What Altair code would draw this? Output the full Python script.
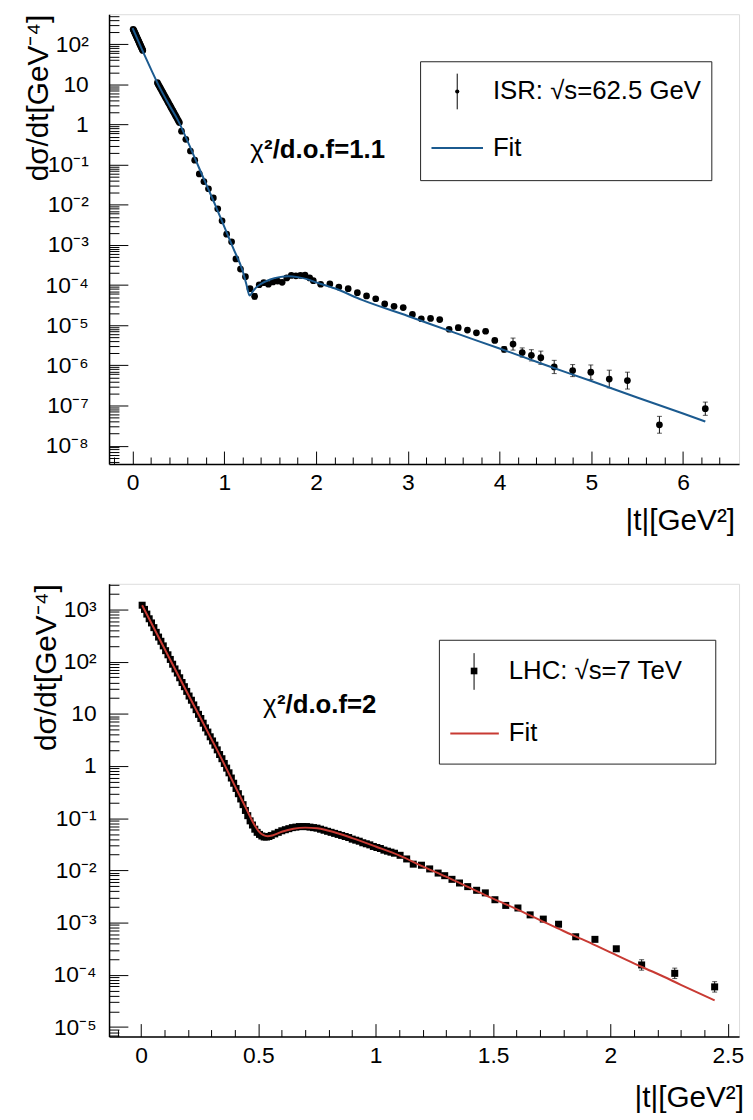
import json
import altair as alt
import pandas as pd

FONT = "Liberation Sans"

# ---------------- ISR, sqrt(s) = 62.5 GeV ----------------
isr_t = [0.006, 0.011, 0.016, 0.021, 0.026, 0.031, 0.036, 0.041, 0.046, 0.051, 0.056,
         0.061, 0.066, 0.071, 0.076, 0.081, 0.086, 0.091, 0.096, 0.101, 0.106, 0.111,
         0.27, 0.28, 0.29, 0.30, 0.31, 0.32, 0.33, 0.34, 0.35, 0.36, 0.37, 0.38, 0.39,
         0.40, 0.41, 0.42, 0.43, 0.44, 0.45, 0.46, 0.47, 0.48, 0.49, 0.50, 0.51,
         0.533, 0.58, 0.63, 0.677, 0.727, 0.777, 0.827, 0.88, 0.928, 0.975, 1.025, 1.079,
         1.126, 1.176, 1.23, 1.28, 1.33, 1.38, 1.43, 1.48, 1.53, 1.58, 1.63, 1.68, 1.73,
         1.78, 1.83, 1.88, 1.93, 1.97, 2.05, 2.15, 2.248, 2.35, 2.45, 2.55, 2.65, 2.748,
         2.85, 2.95, 3.05, 3.147, 3.248, 3.348, 3.45, 3.55, 3.65, 3.748, 3.848, 3.948,
         4.05, 4.147, 4.247, 4.347, 4.45, 4.596, 4.797, 4.995, 5.196, 5.394, 5.743, 6.243]
isr_dsdt = [236, 225, 212, 200, 189, 178, 168, 158, 149, 141, 133,
            125, 118, 111, 105, 99, 93.5, 88, 83, 78.5, 74, 70,
            11.0, 10.0, 9.1, 8.27, 7.52, 6.83, 6.21, 5.65, 5.13, 4.67, 4.24, 3.86, 3.51,
            3.19, 2.90, 2.63, 2.39, 2.18, 1.98, 1.80, 1.64, 1.49, 1.35, 1.23, 1.12,
            0.684, 0.427, 0.219, 0.129, 0.0589, 0.0380, 0.0251, 0.0148, 7.94e-3, 3.98e-3,
            1.86e-3, 1.20e-3, 4.47e-4, 2.51e-4, 1.62e-4, 8.13e-5, 5.25e-5, 1.02e-4, 1.15e-4,
            1.05e-4, 1.20e-4, 1.26e-4, 1.17e-4, 1.51e-4, 1.74e-4, 1.70e-4, 1.74e-4, 1.78e-4,
            1.51e-4, 1.29e-4, 1.05e-4, 1.07e-4, 8.91e-5, 8.13e-5, 6.46e-5, 5.37e-5, 4.57e-5,
            3.39e-5, 2.95e-5, 2.75e-5, 1.86e-5, 1.45e-5, 1.48e-5, 1.38e-5, 7.94e-6, 8.71e-6,
            7.59e-6, 6.46e-6, 7.08e-6, 4.17e-6, 2.51e-6, 3.39e-6, 2.09e-6, 1.78e-6, 1.55e-6,
            9.12e-7, 7.41e-7, 6.76e-7, 4.57e-7, 4.17e-7, 3.31e-8, 8.32e-8]
# half-length of each error bar, in decades
isr_err = ([0.01] * 47 +
           [0.03, 0.03, 0.03, 0.03, 0.03, 0.03, 0.03, 0.03, 0.03, 0.03, 0.03, 0.03,
            0.03, 0.03, 0.03, 0.04, 0.07, 0.04, 0.03, 0.03, 0.03, 0.03, 0.03, 0.03, 0.03,
            0.03, 0.03, 0.03, 0.03, 0.03, 0.03, 0.03, 0.03, 0.03, 0.03, 0.03, 0.03, 0.03,
            0.03, 0.03, 0.03, 0.03, 0.03, 0.03, 0.03, 0.06, 0.04, 0.04, 0.05, 0.04, 0.07,
            0.15, 0.115, 0.14, 0.165, 0.165, 0.15, 0.18, 0.22, 0.21, 0.21, 0.165, 0.39])

isr_fit_t = [0.0, 0.1, 0.2, 0.3, 0.4, 0.5, 0.6, 0.7, 0.8, 0.9, 1.0, 1.1, 1.2, 1.24,
             1.275, 1.31, 1.35, 1.4, 1.5, 1.6, 1.7, 1.8, 1.9, 2.0, 2.2, 2.5, 3.0, 3.5,
             4.0, 4.5, 5.0, 5.5, 6.0, 6.243]
isr_fit_y = [251, 75.9, 24.0, 7.94, 3.02, 1.20, 0.380, 0.112, 0.0331, 0.0100, 2.82e-3,
             7.94e-4, 2.24e-4, 1.05e-4, 5.50e-5, 6.92e-5, 8.91e-5, 1.07e-4, 1.38e-4,
             1.58e-4, 1.66e-4, 1.58e-4, 1.41e-4, 1.17e-4, 8.32e-5, 4.27e-5, 1.70e-5,
             6.61e-6, 2.63e-6, 1.02e-6, 4.07e-7, 1.58e-7, 6.31e-8, 3.98e-8]

# ---------------- LHC, sqrt(s) = 7 TeV ----------------
lhc_t = [0.005, 0.015, 0.025, 0.035, 0.045, 0.055, 0.065, 0.075, 0.085, 0.095, 0.105,
         0.115, 0.125, 0.135, 0.145, 0.155, 0.165, 0.175, 0.185, 0.195, 0.205, 0.215,
         0.225, 0.235, 0.245, 0.255, 0.265, 0.275, 0.285, 0.295, 0.305, 0.315, 0.325,
         0.335, 0.345, 0.355, 0.365, 0.375, 0.385, 0.395, 0.405, 0.415, 0.425, 0.435,
         0.445, 0.455, 0.465, 0.475, 0.485, 0.495, 0.505, 0.515, 0.525, 0.535, 0.545,
         0.555,
         0.57, 0.585, 0.60, 0.615, 0.63, 0.645, 0.66, 0.675, 0.69, 0.705, 0.72, 0.735,
         0.75, 0.765, 0.78, 0.795, 0.81, 0.825, 0.84, 0.855, 0.87, 0.885, 0.90, 0.915,
         0.93, 0.945, 0.96, 0.975, 0.99, 1.005, 1.02, 1.035, 1.05, 1.065, 1.08,
         1.104, 1.132, 1.16, 1.195, 1.23, 1.266, 1.294, 1.325, 1.357, 1.392, 1.43, 1.467,
         1.508, 1.554, 1.606, 1.658, 1.714, 1.779, 1.852, 1.934, 2.025, 2.133, 2.274, 2.444]
lhc_dsdt = [1202, 1000, 813, 661, 550, 447, 363, 295, 245, 200, 162, 135, 110, 89.1,
            72.4, 60.3, 49.0, 39.8, 33.1, 26.9, 21.9, 18.2, 14.8, 12.0, 9.77, 8.13, 6.61,
            5.37, 4.47, 3.63, 3.02, 2.51, 2.04, 1.66, 1.38, 1.12, 0.912, 0.741, 0.589,
            0.468, 0.372, 0.295, 0.234, 0.182, 0.141, 0.112, 0.0891, 0.0741, 0.0617,
            0.0537, 0.0490, 0.0457, 0.0437, 0.0437, 0.0447, 0.0468,
            0.0501, 0.0537, 0.0575, 0.0603, 0.0631, 0.0661, 0.0676, 0.0692, 0.0692,
            0.0692, 0.0676, 0.0661, 0.0646, 0.0617, 0.0589, 0.0562, 0.0537, 0.0513,
            0.0490, 0.0468, 0.0447, 0.0427, 0.0398, 0.0380, 0.0363, 0.0339, 0.0324,
            0.0309, 0.0288, 0.0275, 0.0263, 0.0245, 0.0234, 0.0224, 0.0214,
            0.0195, 0.0166, 0.0132, 0.0126, 0.0107, 8.91e-3, 7.94e-3, 6.76e-3, 5.75e-3,
            4.90e-3, 4.17e-3, 3.72e-3, 2.75e-3, 2.14e-3, 1.91e-3, 1.41e-3, 1.17e-3,
            9.33e-4, 5.37e-4, 4.79e-4, 3.16e-4, 1.55e-4, 1.07e-4, 5.89e-5]
lhc_err = ([0.01] * 91 + [0.02] * 18 + [0.03, 0.03, 0.04, 0.1, 0.1, 0.1])

lhc_fit_t = [0.005, 0.1, 0.2, 0.3, 0.35, 0.4, 0.45, 0.48, 0.5, 0.52, 0.54, 0.56, 0.6,
             0.65, 0.7, 0.75, 0.8, 0.9, 1.0, 1.1, 1.2, 1.3, 1.4, 1.5, 1.6, 1.7, 1.8,
             1.9, 2.0, 2.1, 2.2, 2.3, 2.444]
lhc_fit_y = [1202, 178, 24.0, 3.31, 1.20, 0.417, 0.148, 0.0794, 0.0575, 0.0479, 0.0452,
             0.0468, 0.0550, 0.0631, 0.0661, 0.0646, 0.0575, 0.0417, 0.0288, 0.0195,
             0.0120, 7.59e-3, 4.68e-3, 2.88e-3, 1.82e-3, 1.12e-3, 6.92e-4, 4.37e-4,
             2.69e-4, 1.66e-4, 1.05e-4, 6.46e-5, 3.24e-5]

# ---------------- texts / tick labels ----------------
top_y_labels = ["10⁻⁸", "10⁻⁷", "10⁻⁶", "10⁻⁵", "10⁻⁴", "10⁻³", "10⁻²", "10⁻¹", "1", "10", "10²"]
bot_y_labels = ["10⁻⁵", "10⁻⁴", "10⁻³", "10⁻²", "10⁻¹", "1", "10", "10²", "10³"]
top_x_vals = [0, 1, 2, 3, 4, 5, 6]
top_x_labels = ["0", "1", "2", "3", "4", "5", "6"]
bot_x_vals = [0, 0.5, 1, 1.5, 2, 2.5]
bot_x_labels = ["0", "0.5", "1", "1.5", "2", "2.5"]
y_title = "dσ/dt[GeV⁻⁴]"
x_title = "|t|[GeV²]"
top_leg = ["ISR: √s=62.5 GeV", "Fit"]
bot_leg = ["LHC: √s=7 TeV", "Fit"]
top_chi = "²/d.o.f=1.1"
bot_chi = "²/d.o.f=2"


def make_df(t, y, err):
    return pd.DataFrame({"t": t, "y": y,
                         "lo": [v / 10 ** e for v, e in zip(y, err)],
                         "hi": [v * 10 ** e for v, e in zip(y, err)]})


ONE = pd.DataFrame({"k": [0]})


def txt(s, x, y, size, weight="normal"):
    return alt.Chart(ONE).mark_text(text=s, font=FONT, fontSize=size, fontWeight=weight,
                                    align="left", baseline="middle", color="black"
                                    ).encode(x=alt.value(x), y=alt.value(y))


def panel(df, fit_df, xdom, ydom, W, H, x_minor, x_major_test, x_vals, x_labels,
          y_lo_exp, y_hi_exp, y_labels, color, marker, msize, xtitle_x, xtitle_y,
          ytitle_x, ylab_pad, spacer, chi_x, chi_y, chi_text, leg, leg_labels):
    xs = alt.Scale(domain=xdom, nice=False, zero=False)
    ys = alt.Scale(type="log", domain=ydom, nice=False)
    y_decades = [10.0 ** k for k in range(y_lo_exp, y_hi_exp + 1)]
    y_minor = [m * 10.0 ** k for k in range(y_lo_exp - 1, y_hi_exp + 1) for m in range(1, 10)
               if ydom[0] <= m * 10.0 ** k <= ydom[1]]
    x_expr = (json.dumps(x_labels, ensure_ascii=False) +
              "[indexof(" + json.dumps(x_vals) + ", datum.value)]")
    y_expr = (json.dumps(y_labels, ensure_ascii=False) +
              "[round(log(datum.value)/LN10) - (" + str(y_lo_exp) + ")]")

    ax_x = alt.Axis(orient="bottom", values=x_vals, labelExpr=x_expr, ticks=False, tickSize=0,
                    domain=True, domainColor="black", domainWidth=1.5, grid=False,
                    labelFont=FONT, labelFontSize=23, labelColor="black", labelPadding=8,
                    labelFlush=False, labelOverlap=False, labelBound=False,
                    title=x_title, titleFont=FONT, titleFontSize=30, titleFontWeight="normal",
                    titleColor="black", titleX=xtitle_x, titleY=xtitle_y, titleAlign="right",
                    titleBaseline="alphabetic", titleAngle=0)
    ax_y = alt.Axis(orient="left", values=y_decades, labelExpr=y_expr, ticks=False, tickSize=0,
                    domain=True, domainColor="black", domainWidth=1.5, grid=False,
                    labelFont=FONT, labelFontSize=23, labelColor="black", labelPadding=ylab_pad,
                    labelFlush=False, labelOverlap=False, labelBound=False,
                    title=y_title, titleFont=FONT, titleFontSize=30, titleFontWeight="normal",
                    titleColor="black", titleX=ytitle_x, titleY=0, titleAlign="right",
                    titleBaseline="alphabetic", titleAngle=270)
    tick_x = alt.Axis(orient="top", offset=-H, values=x_minor, labels=False, domain=False,
                      grid=False, ticks=True, tickColor="black", tickWidth=1, minExtent=0,
                      tickSize={"condition": {"test": x_major_test, "value": 13}, "value": 7},
                      title=None)
    tick_y = alt.Axis(orient="right", offset=-W, values=y_minor, labels=False, domain=False,
                      grid=False, ticks=True, tickColor="black", tickWidth=1, minExtent=0,
                      tickSize={"condition": {"test": "abs(log(datum.value)/LN10 - round(log(datum.value)/LN10)) < 0.001",
                                              "value": 19}, "value": 10},
                      title=None)

    eb = alt.Chart(df).mark_errorbar(ticks=True, size=5, thickness=1, color="#111").encode(
        x=alt.X("t:Q", scale=xs, axis=None),
        y=alt.Y("lo:Q", scale=ys, axis=None),
        y2="hi:Q")
    pts = alt.Chart(df).mark_point(shape=marker, filled=True, size=msize, color="black",
                                   opacity=1).encode(
        x=alt.X("t:Q", scale=xs, axis=ax_x),
        y=alt.Y("y:Q", scale=ys, axis=ax_y))
    fit = alt.Chart(fit_df).mark_line(color=color, strokeWidth=2, interpolate="monotone").encode(
        x=alt.X("t:Q", scale=xs, axis=tick_x),
        y=alt.Y("y:Q", scale=ys, axis=tick_y))

    chi1 = txt("χ", chi_x, chi_y, 26)
    chi2 = txt(chi_text, chi_x + 14, chi_y, 26, "bold")

    bx0, bx1, by0, by1, mx, ey0, ey1, r1, lx0, lx1, r2, tx, msz = leg
    box = alt.Chart(ONE).mark_rect(fill="white", stroke="#222", strokeWidth=1).encode(
        x=alt.value(bx0), x2=alt.value(bx1), y=alt.value(by0), y2=alt.value(by1))
    sw_bar = alt.Chart(ONE).mark_rule(color="black", strokeWidth=1).encode(
        x=alt.value(mx), y=alt.value(ey0), y2=alt.value(ey1))
    sw_pt = alt.Chart(ONE).mark_point(shape=marker, filled=True, size=msz, color="black",
                                      opacity=1).encode(x=alt.value(mx), y=alt.value(r1))
    sw_line = alt.Chart(ONE).mark_rule(color=color, strokeWidth=2).encode(
        x=alt.value(lx0), x2=alt.value(lx1), y=alt.value(r2))
    lt1 = txt(leg_labels[0], tx, r1, 26)
    lt2 = txt(leg_labels[1], tx, r2, 26)

    sp = alt.Chart(ONE).mark_rule(opacity=0).encode(
        x=alt.value(-spacer), y=alt.value(2), y2=alt.value(3))

    return alt.layer(eb, pts, fit, chi1, chi2, box, sw_bar, sw_pt, sw_line, lt1, lt2, sp
                     ).resolve_axis(x="independent", y="independent"
                                    ).properties(width=W, height=H)


# both panels share the same left edge (x = 109.5 px on the page); the x domains are
# chosen so that the tick positions land where they are in the reference
top = panel(make_df(isr_t, isr_dsdt, isr_err), pd.DataFrame({"t": isr_fit_t, "y": isr_fit_y}),
            xdom=[-0.257, 6.611], ydom=[3.5e-9, 560], W=636, H=454,
            x_minor=[round(-0.2 + 0.2 * i, 1) for i in range(34)],
            x_major_test="abs(datum.value - round(datum.value)) < 1e-6",
            x_vals=top_x_vals, x_labels=top_x_labels,
            y_lo_exp=-8, y_hi_exp=2, y_labels=top_y_labels,
            color="#1b5a8f", marker="circle", msize=46, xtitle_x=631.5, xtitle_y=66,
            ytitle_x=-62, ylab_pad=21, spacer=101.5,
            chi_x=142.5, chi_y=137, chi_text=top_chi,
            leg=(314.5, 608.5, 48, 168, 351.5, 60, 96, 78, 325.5, 377.5, 135, 387.5, 18),
            leg_labels=top_leg)

bot = panel(make_df(lhc_t, lhc_dsdt, lhc_err), pd.DataFrame({"t": lhc_fit_t, "y": lhc_fit_y}),
            xdom=[-0.136, 2.548], ydom=[6.6e-6, 3090], W=636, H=457,
            x_minor=[round(-0.1 + 0.1 * i, 1) for i in range(27)],
            x_major_test="abs(datum.value*2 - round(datum.value*2)) < 1e-6",
            x_vals=bot_x_vals, x_labels=bot_x_labels,
            y_lo_exp=-5, y_hi_exp=3, y_labels=bot_y_labels,
            color="#c83a33", marker="square", msize=50, xtitle_x=640.5, xtitle_y=71,
            ytitle_x=-54, ylab_pad=13, spacer=101.5,
            chi_x=155.5, chi_y=122, chi_text=bot_chi,
            leg=(333.5, 612.5, 57, 182, 368.5, 70, 107, 88, 344.5, 393.5, 151, 403.5, 45),
            leg_labels=bot_leg)

chart = alt.VConcatChart(vconcat=[top, bot], spacing=47, padding=0
                         ).configure_view(stroke="#333", strokeWidth=1).configure(font=FONT)

chart.save("out.html", embed_options={"renderer": "svg", "actions": False})
